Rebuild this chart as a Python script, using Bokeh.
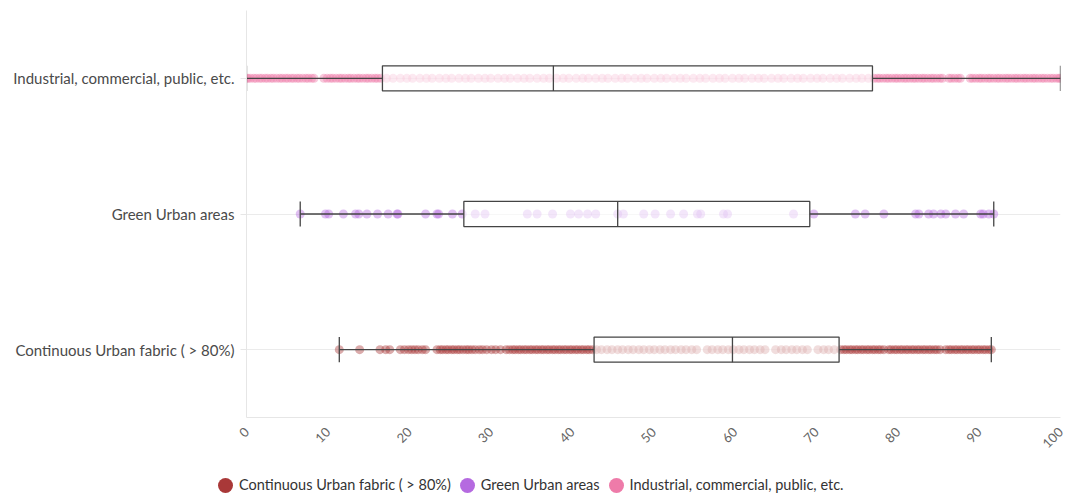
import math
from bokeh.plotting import figure
from bokeh.layouts import column
from bokeh.models import ColumnDataSource, FactorRange, Range1d, FixedTicker, Div
from bokeh.transform import dodge
from bokeh.embed import file_html
from bokeh.resources import INLINE

categories = ["Continuous Urban fabric ( > 80%)", "Green Urban areas",
              "Industrial, commercial, public, etc."]
colors = ["#a93838", "#b56ae0", "#ee7ba9"]

whisker_low = [11.4, 6.6, 0.0]
q1 = [42.7, 26.7, 16.7]
median = [59.7, 45.6, 37.7]
q3 = [72.8, 69.2, 76.9]
whisker_high = [91.5, 91.8, 100.0]

x_ticks = [0, 10, 20, 30, 40, 50, 60, 70, 80, 90, 100]

cont_points = [
    11.4, 13.9, 16.4, 17.1, 17.6, 18.9, 19.4, 19.9, 20.3, 20.7, 21.1, 21.6, 22.0,
    23.4, 23.8, 24.1, 24.5, 24.8, 25.2, 25.5, 25.9, 26.2, 26.6, 27.0, 27.3, 27.7,
    28.1, 28.6, 29.0, 29.5, 30.1, 30.6, 31.2, 31.9, 32.3, 32.7, 33.0, 33.4, 33.7,
    34.1, 34.4, 34.8, 35.1, 35.5, 35.8, 36.2, 36.5, 36.9, 37.2, 37.6, 37.9, 38.3,
    38.6, 39.0, 39.3, 39.7, 40.0, 40.4, 40.7, 41.1, 41.4, 41.8, 42.1, 42.5,
    43.0, 43.6, 44.3, 44.9, 45.6, 46.2, 46.9, 47.5, 48.2, 48.8, 49.5, 50.1, 50.8,
    51.4, 52.1, 52.7, 53.4, 54.0, 54.7, 55.3, 56.6, 57.2, 57.9, 58.5, 59.2, 59.8,
    60.5, 61.1, 61.8, 62.4, 63.1, 63.7, 65.0, 65.7, 66.3, 67.0, 67.6, 68.3, 68.9,
    70.2, 70.9, 71.5, 72.2,
    73.0, 73.4, 73.7, 74.1, 74.4, 74.8, 75.1, 75.5, 75.8, 76.2, 76.5, 76.9, 77.2,
    77.6, 77.9, 78.3, 78.9, 79.2, 79.6, 79.9, 80.3, 80.6, 81.0, 81.3, 81.7, 82.0,
    82.4, 82.7, 83.1, 83.4, 83.8, 84.1, 84.5, 84.8, 85.2, 85.9, 86.3, 86.6, 87.0,
    87.3, 87.7, 88.0, 88.4, 88.7, 89.1, 89.4, 89.8, 90.1, 90.5, 90.8, 91.2, 91.5,
]

green_points = [
    6.6, 9.7, 10.1, 11.9, 13.4, 13.8, 14.8, 16.1, 17.4, 18.5, 18.6, 22.0, 23.4,
    23.6, 25.3, 26.5, 28.1, 29.3, 34.5, 35.7, 37.6, 39.8, 40.8, 41.9, 42.9, 45.6,
    46.3, 48.8, 50.2, 52.1, 53.7, 55.4, 55.8, 58.6, 59.1, 67.2, 69.7, 74.8, 76.0,
    78.3, 82.2, 82.6, 83.8, 84.4, 85.3, 85.9, 87.1, 88.1, 90.2, 90.5, 91.2, 91.8,
]

ind_points = [
    0.0, 0.2, 0.5, 0.9, 1.2, 1.6, 1.9, 2.3, 2.6, 3.0, 3.3, 3.7, 4.1, 4.4, 4.8,
    5.1, 5.5, 5.8, 6.2, 6.5, 6.9, 7.3, 7.6, 8.0, 8.3, 9.5, 9.9, 10.3, 10.6, 11.0,
    11.4, 11.7, 12.1, 12.5, 12.8, 13.2, 13.6, 13.9, 14.3, 14.7, 15.0, 15.4, 15.8,
    16.1, 16.5,
    17.2, 18.0, 18.9, 19.7, 20.4, 21.3, 22.1, 22.8, 23.7, 24.5, 25.2, 26.1, 26.9,
    27.6, 28.5, 29.3, 30.0, 30.9, 31.7, 32.4, 33.3, 34.1, 34.8, 35.7, 36.5, 37.2,
    38.1, 38.9, 39.6, 40.5, 41.3, 42.0, 42.9, 43.7, 44.4, 45.3, 46.1, 46.8, 47.7,
    48.5, 49.2, 50.1, 50.9, 51.6, 52.5, 53.3, 54.0, 54.9, 55.7, 56.4, 57.3, 58.1,
    58.8, 59.7, 60.5, 61.2, 62.1, 62.9, 63.6, 64.5, 65.3, 66.0, 66.9, 67.7, 68.4,
    69.3, 70.1, 70.8, 71.7, 72.5, 73.2, 74.1, 74.9, 75.6, 76.4,
    77.1, 77.5, 77.8, 78.2, 78.6, 78.9, 79.3, 79.7, 80.0, 80.4, 80.8, 81.1, 81.5,
    81.9, 82.2, 82.6, 83.0, 83.3, 83.7, 84.1, 84.4, 84.8, 85.2, 85.5, 86.3, 86.6,
    87.0, 87.4, 87.7, 88.9, 89.2, 89.6, 90.0, 90.3, 90.7, 91.1, 91.4, 91.8, 92.2,
    92.5, 92.9, 93.3, 93.6, 94.0, 94.4, 94.7, 95.1, 95.5, 95.8, 96.2, 96.6, 96.9,
    97.3, 97.7, 98.0, 98.4, 98.8, 99.1, 99.5, 99.8, 100.0,
]

FONT = "Lato"
BOX_HALF = 0.0925

p = figure(width=1071, height=465, output_backend="svg", toolbar_location=None,
           y_range=FactorRange(factors=categories, range_padding=0),
           x_range=Range1d(0, 100),
           min_border_left=246, min_border_right=11, min_border_top=10,
           min_border_bottom=48)
p.outline_line_color = None
p.background_fill_color = "white"

# points
point_sets = [cont_points, green_points, ind_points]
for cat, col, pts in zip(categories, colors, point_sets):
    src = ColumnDataSource(dict(x=pts, y=[cat] * len(pts)))
    p.scatter("x", "y", source=src, size=9, fill_color=col, line_color=None,
              fill_alpha=0.42)

box_src = ColumnDataSource(dict(cat=categories, lo=whisker_low, q1=q1, med=median,
                                q3=q3, hi=whisker_high))
# boxes
p.hbar(y="cat", left="q1", right="q3", height=2 * BOX_HALF, source=box_src,
       fill_color="white", fill_alpha=0.6, line_color="#444444", line_width=1.3)
# whiskers
p.segment(x0="lo", y0="cat", x1="q1", y1="cat", source=box_src,
          line_color="#444444", line_width=1.3)
p.segment(x0="q3", y0="cat", x1="hi", y1="cat", source=box_src,
          line_color="#444444", line_width=1.3)
ylo = dodge("cat", -BOX_HALF, range=p.y_range)
yhi = dodge("cat", BOX_HALF, range=p.y_range)
for fld in ["med", "lo", "hi"]:
    p.segment(x0=fld, y0=ylo, x1=fld, y1=yhi, source=box_src,
              line_color="#444444", line_width=1.3)

# axes
p.xaxis.ticker = FixedTicker(ticks=x_ticks)
p.xaxis.major_label_orientation = math.pi / 4
p.xaxis.major_label_text_font = FONT
p.xaxis.major_label_text_font_size = "13px"
p.xaxis.major_label_text_color = "#666666"
p.xaxis.major_tick_line_color = None
p.xaxis.minor_tick_line_color = None
p.xaxis.axis_line_color = "#e6e6e6"
p.xaxis.major_label_standoff = 6

p.yaxis.major_label_text_font = FONT
p.yaxis.major_label_text_font_size = "15px"
p.yaxis.major_label_text_color = "#4a4a4a"
p.yaxis.major_tick_line_color = "#e6e6e6"
p.yaxis.major_tick_out = 6
p.yaxis.major_tick_in = 0
p.yaxis.major_label_standoff = 6
p.yaxis.axis_line_color = "#e6e6e6"

p.xgrid.grid_line_color = None
p.ygrid.grid_line_color = "#ebebeb"

# legend strip below the chart (HTML)
parts = []
for i, (cat, col) in enumerate(zip(categories, colors)):
    gap = "0" if i == 0 else "9px"
    parts.append(
        f'<span style="display:inline-flex;align-items:center;margin-left:{gap}">'
        f'<span style="display:inline-block;width:15px;height:15px;border-radius:50%;'
        f'background:{col};margin-right:6px"></span>{cat}</span>'
    )
legend_html = (
    f'<div style="font-family:Lato;font-size:14.5px;color:#333333;line-height:18px;'
    f'padding-top:11px;padding-left:218px;white-space:nowrap">{"".join(parts)}</div>'
)
lf = Div(text=legend_html, width=1071, height=31, margin=(0, 0, 0, 0))

layout = column(p, lf, spacing=0)
open("out.html", "w").write(file_html(layout, INLINE))
